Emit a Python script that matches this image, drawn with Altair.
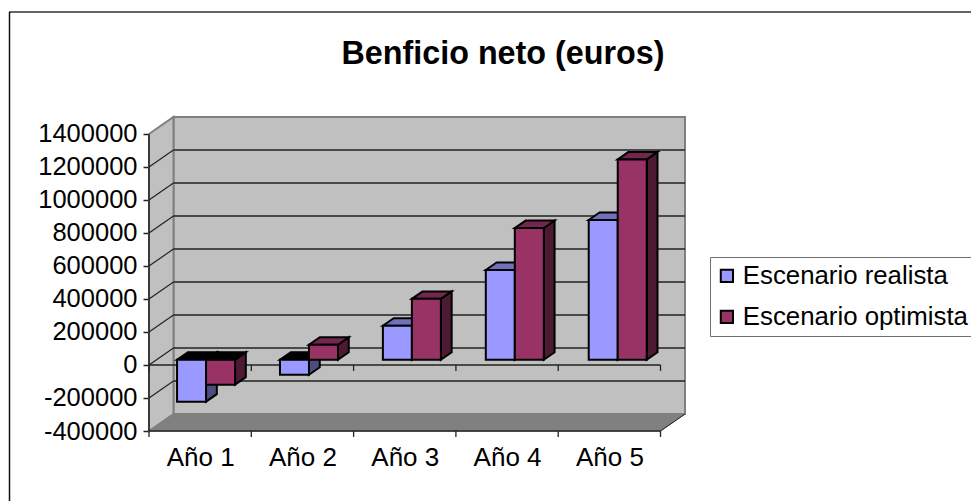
import altair as alt
import pandas as pd

years = ["Año 1", "Año 2", "Año 3", "Año 4", "Año 5"]
series_names = ["Escenario realista", "Escenario optimista"]
realista = [-254000, -91000, 206000, 544000, 847000]
optimista = [-151000, 91000, 369000, 798000, 1214000]
tick_values = [-400000, -200000, 0, 200000, 400000, 600000, 800000, 1000000, 1200000, 1400000]

FRONT = "#9999FF", "#993366"
TOPS = "#7070BB", "#722650"
SIDES = "#4D4D80", "#4D1A33"

# oblique projection: (category units, value units) of one full depth step
DU, DV = 0.2393, 102800.0
YMIN, YMAX = -400000, 1400000
XEND = 5.0 + DU
D0, D1 = 0.31, 0.75
GAP, BW, STEP = 0.2, 0.2835, 1.006

front, sides, tops = [], [], []
for i, yr in enumerate(years):
    for s, vals in enumerate([realista, optimista]):
        v = vals[i]
        xl = i * STEP + GAP + s * BW
        xr = xl + BW
        x0, y0 = xl + D0 * DU, D0 * DV
        x1 = xr + D0 * DU
        x2, sh = xr + D1 * DU, D1 * DV
        low, high = min(0, v), max(0, v)
        front.append(dict(series=series_names[s], x=x0, x2=x1, y=low + y0, y2=high + y0))
        f = f"{i}-{s}"
        sides += [dict(face=f, fill=SIDES[s], x=x1, y=low + y0, y2=high + y0),
                  dict(face=f, fill=SIDES[s], x=x2, y=low + sh, y2=high + sh)]
        top_fill = "#000000" if v < 0 else TOPS[s]
        tops += [dict(face=f, fill=top_fill, y=high + y0, x=x0, x2=x1),
                 dict(face=f, fill=top_fill, y=high + sh, x=x0 + (D1 - D0) * DU, x2=x2)]

xs = alt.Scale(domain=[0, XEND], range=[0, 536], nice=False, zero=False)
ys = alt.Scale(domain=[YMIN, YMAX + DV], range=[314, 0], nice=False, zero=False)
X = alt.X("x:Q", scale=xs, title=None,
          axis=alt.Axis(values=[0.5, 1.5, 2.5, 3.5, 4.5], ticks=False, domain=False, grid=False,
                        labelExpr="'Año ' + (datum.value + 0.5)", labelFontSize=26,
                        labelFont="Liberation Sans", labelColor="black", labelPadding=13,
                        labelBaseline="top", labelFlush=False))
Y = alt.Y("y:Q", scale=ys, title=None,
          axis=alt.Axis(values=tick_values, labelExpr="'' + datum.value", domain=False, grid=False,
                        tickColor="#222222", tickSize=6, tickWidth=1.5, labelFontSize=25.5,
                        labelFont="Liberation Sans", labelColor="black", labelPadding=6,
                        labelBaseline="middle", labelFlush=False))
Xp = X
Yp = Y

# walls and floor
back = alt.Chart(pd.DataFrame([dict(x=DU, x2=XEND, y=YMIN + DV, y2=YMAX + DV)])).mark_rect(
    fill="#C0C0C0", stroke="#808080", strokeWidth=2).encode(x=X, x2="x2:Q", y=Y, y2="y2:Q")
left_wall = alt.Chart(pd.DataFrame([dict(x=0, y=YMIN, y2=YMAX), dict(x=DU, y=YMIN + DV, y2=YMAX + DV)])).mark_area(
    orient="vertical", fill="#C0C0C0", stroke="#808080", strokeWidth=2).encode(x=Xp, y=Yp, y2="y2:Q")
floor = alt.Chart(pd.DataFrame([dict(y=YMIN, x=0, x2=5), dict(y=YMIN + DV, x=DU, x2=XEND)])).mark_area(
    orient="horizontal", fill="#808080", stroke="#808080", strokeWidth=1).encode(y=Yp, x=Xp, x2="x2:Q")

# gridlines
grid_vals = tick_values[1:-1]
grid_back = alt.Chart(pd.DataFrame([dict(x=DU, x2=XEND, y=v + DV) for v in grid_vals])).mark_rule(
    color="#222222", strokeWidth=1.4).encode(x=Xp, x2="x2:Q", y=Yp)
grid_side = alt.Chart(pd.DataFrame([dict(x=0, x2=DU, y=v, y2=v + DV) for v in grid_vals])).mark_rule(
    color="#222222", strokeWidth=1.2).encode(x=Xp, x2="x2:Q", y=Yp, y2="y2:Q")

# front axis lines and category ticks
y_line = alt.Chart(pd.DataFrame([dict(x=0, y=YMIN, y2=YMAX)])).mark_rule(
    color="#222222", strokeWidth=1.5).encode(x=Xp, y=Yp, y2="y2:Q")
h_lines = alt.Chart(pd.DataFrame([dict(x=0, x2=5, y=0), dict(x=0, x2=5, y=YMIN)])).mark_rule(
    color="#222222", strokeWidth=1.6).encode(x=Xp, x2="x2:Q", y=Yp)
cat_ticks = alt.Chart(pd.DataFrame(
    [dict(x=i, y=base, y2=base - 36000) for i in range(6) for base in (0, YMIN)])).mark_rule(
    color="#222222", strokeWidth=1.3).encode(x=Xp, y=Yp, y2="y2:Q")
floor_edge = alt.Chart(pd.DataFrame([dict(x=5, x2=XEND, y=YMIN, y2=YMIN + DV)])).mark_rule(
    color="#222222", strokeWidth=1).encode(x=Xp, x2="x2:Q", y=Yp, y2="y2:Q")

# bars
side_faces = alt.Chart(pd.DataFrame(sides)).mark_area(
    orient="vertical", stroke="black", strokeWidth=2, strokeJoin="miter", opacity=1).encode(
    x=Xp, y=Yp, y2="y2:Q", fill=alt.Fill("fill:N", scale=None), detail="face:N")
top_faces = alt.Chart(pd.DataFrame(tops)).mark_area(
    orient="horizontal", stroke="black", strokeWidth=2, strokeJoin="miter", opacity=1).encode(
    y=Yp, x=Xp, x2="x2:Q", fill=alt.Fill("fill:N", scale=None), detail="face:N")
front_faces = alt.Chart(pd.DataFrame(front)).mark_rect(
    stroke="black", strokeWidth=2, opacity=1).encode(
    x=Xp, x2="x2:Q", y=Yp, y2="y2:Q",
    fill=alt.Fill("series:N", title=None, sort=series_names,
                  scale=alt.Scale(domain=series_names, range=list(FRONT)),
                  legend=alt.Legend(orient="none", legendX=561, legendY=140, title=None,
                                    symbolType="square", symbolSize=150, symbolStrokeColor="black",
                                    symbolStrokeWidth=2, symbolOpacity=1, symbolOffset=-2,
                                    labelFont="Liberation Sans", labelFontSize=25.8, labelColor="black",
                                    labelLimit=400, labelOffset=3, padding=6, rowPadding=14,
                                    strokeColor="#707070", fillColor="white", direction="vertical",
                                    cornerRadius=0)))

# chart frame (top and left edges)
frame_top = alt.Chart(pd.DataFrame([dict(k=1)])).mark_rule(color="#333333", strokeWidth=1.5).encode(
    x=alt.value(-140), x2=alt.value(840), y=alt.value(-105))
frame_left = alt.Chart(pd.DataFrame([dict(k=1)])).mark_rule(color="#111111", strokeWidth=1.5).encode(
    x=alt.value(-139.5), y=alt.value(-105), y2=alt.value(390))

chart = alt.layer(
    frame_top, frame_left,
    back, left_wall, floor, grid_back, grid_side, y_line, h_lines, cat_ticks, floor_edge,
    side_faces, top_faces, front_faces,
).properties(
    width=536, height=314,
    padding={"left": 141, "top": 109, "right": 286, "bottom": 70},
    autosize=alt.AutoSizeParams(type="none"),
    title=alt.TitleParams("Benficio neto (euros)", font="Liberation Sans", fontSize=32.3, fontWeight="bold",
                          color="black", anchor="middle", dx=86, offset=-59),
).configure_view(stroke=None)

chart.save("out.html", embed_options={"renderer": "svg", "actions": False})
